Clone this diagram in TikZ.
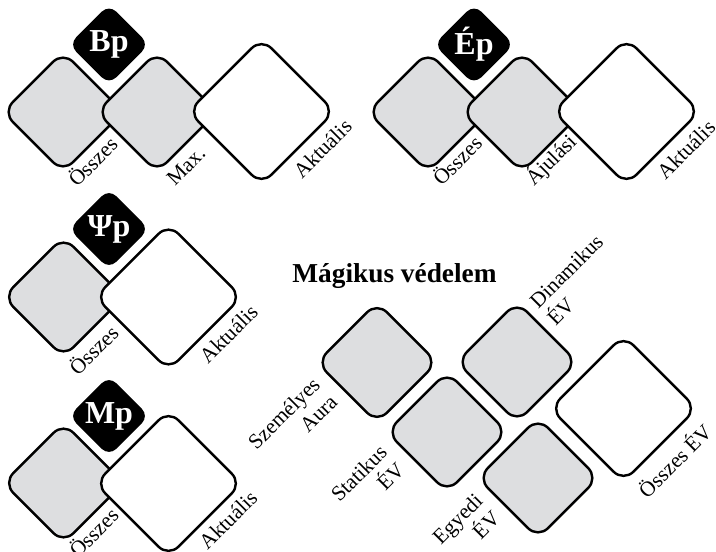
\documentclass[tikz,border=0pt]{standalone}
\usepackage{fontspec}
\setmainfont{Liberation Serif}
\usetikzlibrary{shapes.geometric}
\definecolor{boxgrey}{RGB}{221,222,224}
\tikzset{
  rdia/.style={diamond, aspect=1, inner sep=0pt, outer sep=0pt, draw=black, line width=1.8pt, rounded corners=10.5pt},
  greybox/.style={rdia, fill=boxgrey, minimum width=90.2pt, minimum height=90.2pt},
  whitebox/.style={rdia, fill=white, minimum width=109.7pt, minimum height=109.7pt},
  badge/.style={diamond, aspect=1, inner sep=0pt, fill=black, rounded corners=7.5pt, minimum width=60.2pt, minimum height=60.2pt, text=white, font=\bfseries\fontsize{24}{24}\selectfont},
  lbl/.style={rotate=45, inner sep=0pt, font=\fontsize{16}{18.5}\selectfont},
  titletext/.style={inner sep=0pt, font=\bfseries\fontsize{20.5}{24}\selectfont}
}
\begin{document}
\begin{tikzpicture}[x=0.75pt,y=-0.75pt]
\path[use as bounding box] (0,0) rectangle (716,552);
% Bp
\node[badge] (bpb) at (109,44.5) {Bp};
\node[greybox] (bp1) at (63,112) {};
\node[greybox] (bp2) at (157,112) {};
\node[whitebox] (bp3) at (261.5,111.5) {};
\node[lbl] (bpl1) at (92,161) {Összes};
\node[lbl] (bpl2) at (186,166) {Max.};
\node[lbl] (bpl3) at (322.5,148.5) {Aktuális};
% Ep
\node[badge] (epb) at (474,44.5) {Ép};
\node[greybox] (ep1) at (428,112) {};
\node[greybox] (ep2) at (522,112) {};
\node[whitebox] (ep3) at (626.5,111.5) {};
\node[lbl] (epl1) at (456.5,160) {Összes};
\node[lbl] (epl2) at (551,160) {Ájulási};
\node[lbl] (epl3) at (686,149.5) {Aktuális};
% Psi p
\node[badge] (psb) at (109,229) {Ψp};
\node[greybox] (ps1) at (63.5,297) {};
\node[whitebox] (ps2) at (168.5,297) {};
\node[lbl] (psl1) at (93,349.5) {Összes};
\node[lbl] (psl2) at (228.5,334) {Aktuális};
% Mp
\node[badge] (mpb) at (109,416) {Mp};
\node[greybox] (mp1) at (63.5,483) {};
\node[whitebox] (mp2) at (168.5,483.5) {};
\node[lbl] (mpl1) at (93,532) {Összes};
\node[lbl] (mpl2) at (228,520) {Aktuális};
% Magikus vedelem
\node[titletext, anchor=base] (mvt) at (394.5,282) {Mágikus védelem};
\node[greybox] (mva) at (377,362.5) {};
\node[greybox] (mvb) at (447,432) {};
\node[greybox] (mvc) at (517,362) {};
\node[greybox] (mvd) at (538,478) {};
\node[whitebox] (mve) at (623.5,408.5) {};
\node[lbl, align=right] (mvla) at (292.5,422) {Személyes\\Aura};
\node[lbl, align=right] (mvlb) at (367.5,482) {Statikus\\ÉV};
\node[lbl, align=right] (mvld) at (466,527.5) {Egyedi\\ÉV};
\node[lbl, align=left] (mvlc) at (575,280) {Dinamikus\\ÉV};
\node[lbl] (mvle) at (674,460) {Összes ÉV};
\end{tikzpicture}
\end{document}
